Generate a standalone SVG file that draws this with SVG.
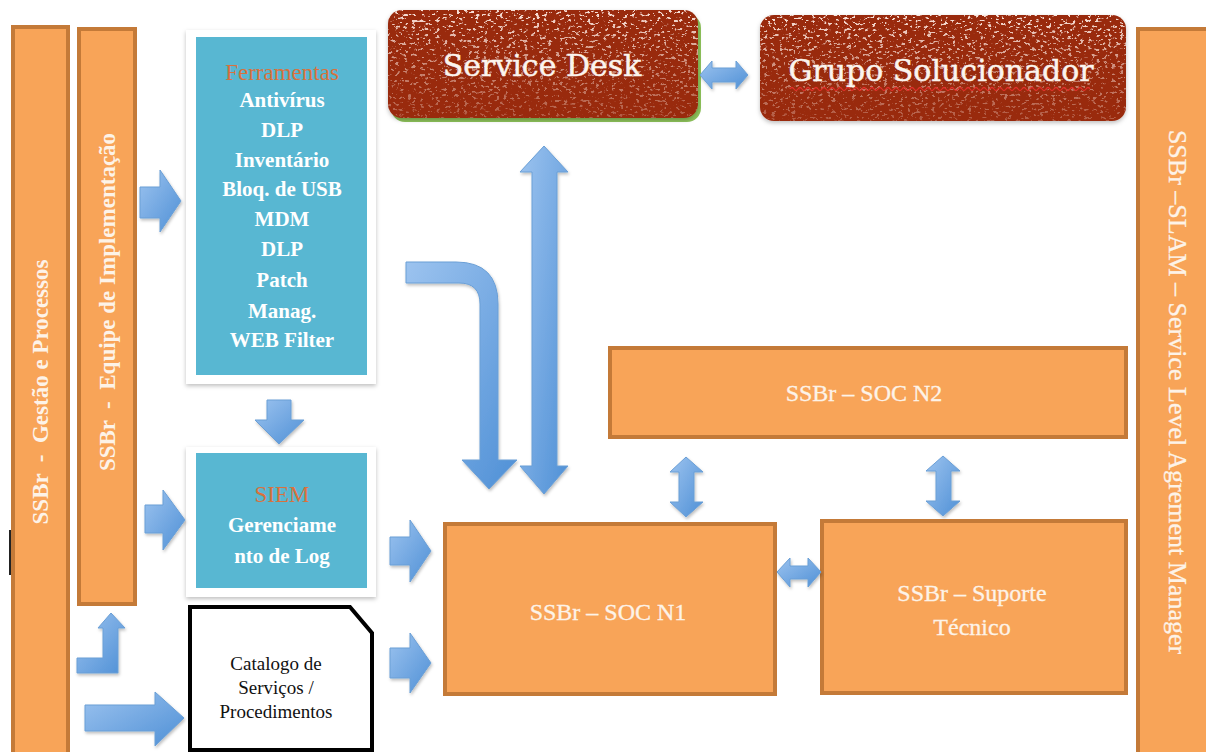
<svg xmlns="http://www.w3.org/2000/svg" width="1206" height="752" viewBox="0 0 1206 752">
<style>
.orange{fill:#f8a458;stroke:#c47a38;stroke-width:4}
.frame{fill:#ffffff;filter:url(#sh)}
.cyan{fill:#58b7d2}
.red{fill:#992a10;filter:url(#sh)}
.speck{fill:#ffffff;filter:url(#specks);mask:url(#fade)}
.arrow{fill:url(#blue);stroke:#6a9fd6;stroke-width:1;filter:url(#ash)}
.t{font-family:"Liberation Serif","DejaVu Serif",serif;text-anchor:middle}
.ow{fill:#fdf3e8;font-size:24px;stroke:#fdf3e8;stroke-width:0.3}
.sl{font-size:26px}
.bw{fill:#fdf3e8;font-size:23px;font-weight:bold}
.cw{fill:#ffffff;font-size:21px;font-weight:bold}
.or{fill:#d9713c;font-size:23px}
.slab{font-family:"DejaVu Serif",serif;fill:#fbf4ee;font-size:30px;text-anchor:middle;stroke:#fbf4ee;stroke-width:0.5}
</style>
<defs>
<linearGradient id="blue" x1="0" y1="0" x2="1" y2="1">
<stop offset="0" stop-color="#9cc3ef"/>
<stop offset="1" stop-color="#4f90d6"/>
</linearGradient>
<linearGradient id="fg" x1="0" y1="0" x2="0" y2="1">
<stop offset="0" stop-color="#fff" stop-opacity="0.95"/>
<stop offset="0.5" stop-color="#fff" stop-opacity="0.5"/>
<stop offset="1" stop-color="#fff" stop-opacity="0.25"/>
</linearGradient>
<mask id="fade" maskContentUnits="objectBoundingBox"><rect x="0" y="0" width="1" height="1" fill="url(#fg)"/></mask>
<filter id="sh" x="-10%" y="-10%" width="120%" height="120%">
<feDropShadow dx="0" dy="2" stdDeviation="2" flood-color="#000" flood-opacity="0.25"/>
</filter>
<filter id="ash" x="-20%" y="-20%" width="140%" height="140%">
<feDropShadow dx="1" dy="2" stdDeviation="1.5" flood-color="#000" flood-opacity="0.25"/>
</filter>
<filter id="specks" x="0" y="0" width="100%" height="100%">
<feTurbulence type="fractalNoise" baseFrequency="0.25 0.35" numOctaves="4" seed="11" result="n"/>
<feColorMatrix in="n" type="matrix" values="0 0 0 0 1  0 0 0 0 0.85  0 0 0 0 0.8  12 0 0 0 -7.2" result="sp"/>
<feComposite in="sp" in2="SourceGraphic" operator="in"/>
</filter>
</defs>

<rect x="9" y="530" width="2" height="45" fill="#222"/>

<g id="gestao">
<rect class="orange" x="13" y="27" width="55" height="740"/>
<text class="t bw" transform="translate(48,392) rotate(-90)" xml:space="preserve">SSBr  -  Gestão e Processos</text>
</g>
<g id="equipe">
<rect class="orange" x="79" y="29" width="56" height="575"/>
<text class="t bw" transform="translate(115,302) rotate(-90)" xml:space="preserve">SSBr  -  Equipe de Implementação</text>
</g>
<g id="ferramentas">
<rect class="frame" x="186" y="30" width="190" height="354"/>
<rect class="cyan" x="196" y="37" width="171" height="338"/>
<text class="t or" x="282" y="80">Ferramentas</text>
<text class="t cw" x="282" y="107">Antivírus</text>
<text class="t cw" x="282" y="137">DLP</text>
<text class="t cw" x="282" y="167">Inventário</text>
<text class="t cw" x="282" y="196">Bloq. de USB</text>
<text class="t cw" x="282" y="226">MDM</text>
<text class="t cw" x="282" y="256">DLP</text>
<text class="t cw" x="282" y="287">Patch</text>
<text class="t cw" x="282" y="318">Manag.</text>
<text class="t cw" x="282" y="347">WEB Filter</text>
</g>
<g id="siem">
<rect class="frame" x="186" y="447" width="190" height="150"/>
<rect class="cyan" x="196" y="453" width="171" height="135"/>
<text class="t or" x="282" y="502">SIEM</text>
<text class="t cw" x="282" y="532">Gerenciame</text>
<text class="t cw" x="282" y="563">nto de Log</text>
</g>
<g id="catalogo">
<path d="M190,607 H350 L372,633 V750 H190 Z" fill="#fff" stroke="#000" stroke-width="4"/>
<text class="t" x="276" y="670" font-size="19" fill="#111">Catalogo de</text>
<text class="t" x="276" y="694" font-size="19" fill="#111">Serviços /</text>
<text class="t" x="276" y="718" font-size="19" fill="#111">Procedimentos</text>
</g>
<g id="servicedesk">
<rect x="391" y="14" width="310" height="108" rx="14" fill="#8dc25a"/>
<rect class="red" x="388" y="10" width="310" height="108" rx="14"/>
<rect class="speck" x="388" y="10" width="310" height="108" rx="14"/>
<text class="slab" x="542" y="76">Service Desk</text>
</g>
<g id="gruposolucionador">
<rect class="red" x="760" y="15" width="366" height="106" rx="14"/>
<rect class="speck" x="760" y="15" width="366" height="106" rx="14"/>
<text class="slab" x="941" y="81">Grupo Solucionador</text>
<path d="M790,89 q2,-3 4,0 t4,0 t4,0 t4,0 t4,0 t4,0 t4,0 t4,0 t4,0 t4,0 t4,0 t4,0 t4,0 t4,0 t4,0 t4,0 t4,0 t4,0 t4,0 t4,0 t4,0 t4,0 t4,0 t4,0 t4,0 t4,0 t4,0 t4,0 t4,0 t4,0 t4,0 t4,0 t4,0 t4,0 t4,0 t4,0 t4,0 t4,0 t4,0 t4,0 t4,0 t4,0 t4,0 t4,0 t4,0 t4,0 t4,0 t4,0 t4,0 t4,0 t4,0 t4,0 t4,0 t4,0 t4,0 t4,0 t4,0 t4,0 t4,0 t4,0 t4,0 t4,0 t4,0 t4,0 t4,0 t4,0 t4,0 t4,0 t4,0 t4,0 t4,0 t4,0 t4,0 t4,0 t4,0" fill="none" stroke="#e0302a" stroke-width="1.3"/>
</g>
<g id="socn2">
<rect class="orange" x="610" y="348" width="516" height="89"/>
<text class="t ow" x="864" y="401">SSBr – SOC N2</text>
</g>
<g id="socn1">
<rect class="orange" x="445" y="524" width="330" height="170"/>
<text class="t ow" x="608" y="620">SSBr – SOC N1</text>
</g>
<g id="suporte">
<rect class="orange" x="822" y="521" width="304" height="172"/>
<text class="t ow" x="972" y="601">SSBr – Suporte</text>
<text class="t ow" x="972" y="635">Técnico</text>
</g>
<g id="slam">
<rect class="orange" x="1138" y="29" width="70" height="740"/>
<text class="t ow sl" transform="translate(1169,392) rotate(90)">SSBr –SLAM – Service Level Agrement Manager</text>
</g>

<g id="connectors">
<path class="arrow" d="M140,187 H160 V170 L181,201 L160,232 V218 H140 Z"/>
<path class="arrow" d="M145,505 H163 V490 L185,520 L163,550 V533 H145 Z"/>
<path class="arrow" d="M267,400 H291 V420 H304 L279,444 L255,420 H267 Z"/>
<path class="arrow" d="M390,537 H410 V520 L431,551 L410,582 V565 H390 Z"/>
<path class="arrow" d="M390,648 H410 V633 L431,663 L410,693 V678 H390 Z"/>
<path class="arrow" d="M77,658 H103 V628 H98 L111,613 L125,628 H118 V673 H77 Z"/>
<path class="arrow" d="M85,705 H155 V692 L184,718 L155,746 V731 H85 Z"/>
<path class="arrow" d="M700,75 L712,61 V68 H736 V61 L748,75 L736,89 V82 H712 V89 Z"/>
<path class="arrow" d="M544,146 L568,172 H557 V466 H568 L544,494 L520,466 H532 V172 H520 Z"/>
<path class="arrow" d="M406,262 H456 Q498,262 498,304 V460 H517 L489,489 L462,460 H480 V304 Q480,283 459,283 H406 Z"/>
<path class="arrow" d="M686,457 L703,472 H694 V502 H703 L686,517 L670,502 H679 V472 H670 Z"/>
<path class="arrow" d="M943,456 L960,471 H951 V501 H960 L943,516 L926,501 H936 V471 H926 Z"/>
<path class="arrow" d="M777,572 L790,558 V566 H808 V558 L821,572 L808,587 V579 H790 V587 Z"/>
</g>
</svg>
